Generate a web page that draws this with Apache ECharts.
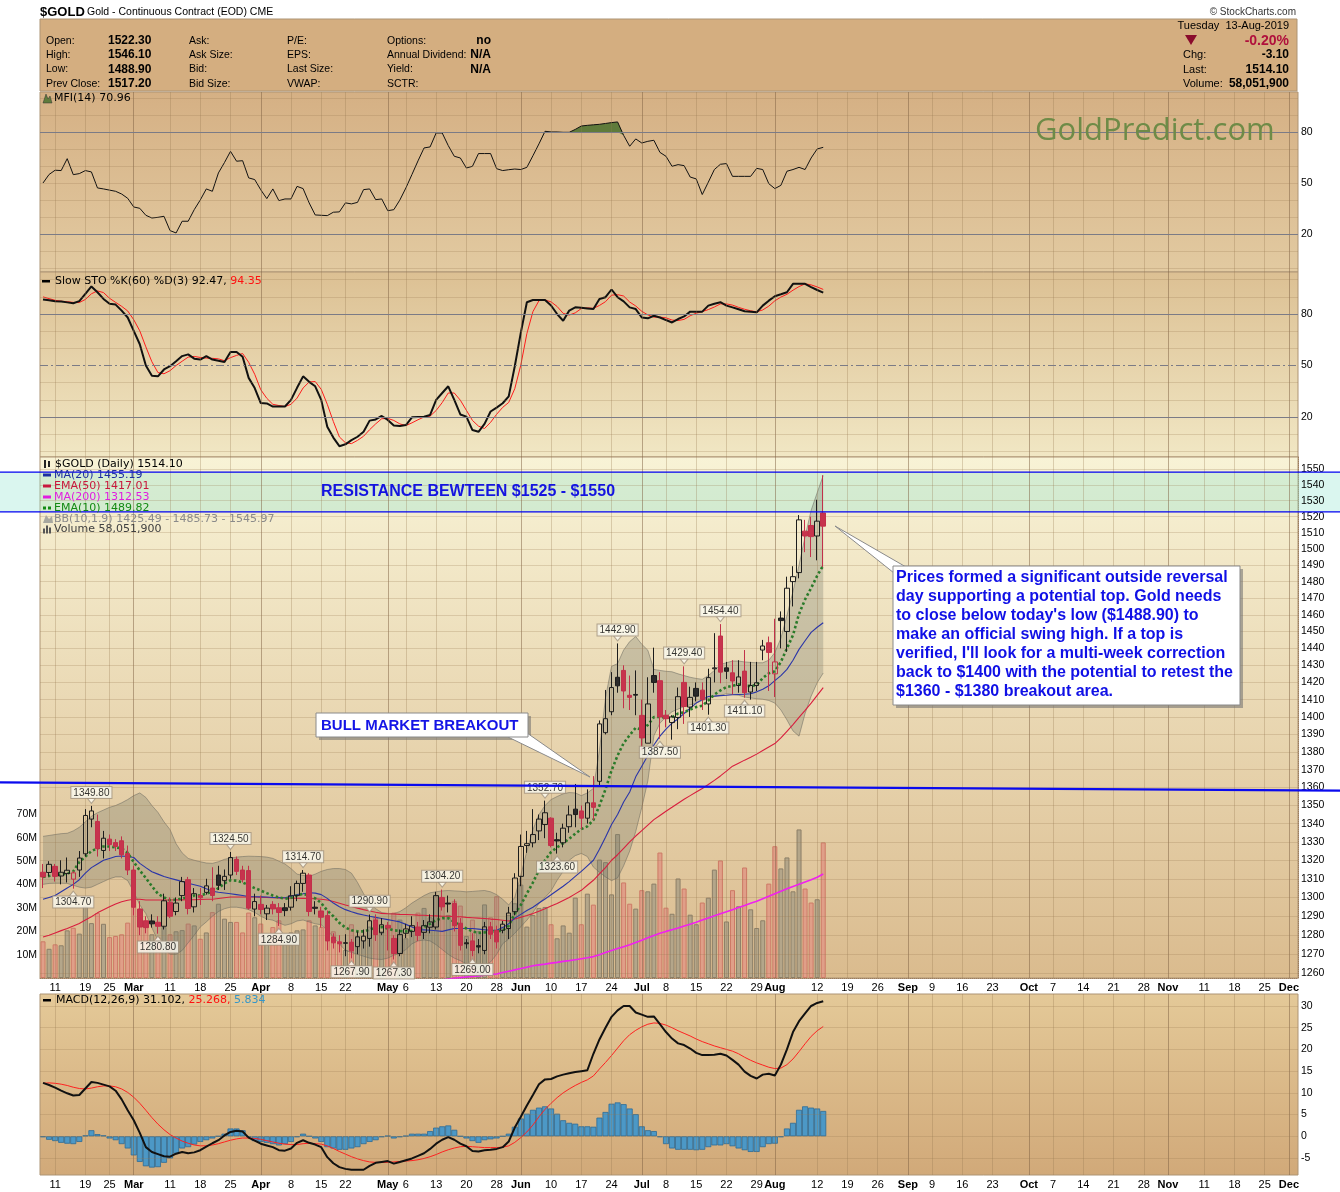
<!DOCTYPE html>
<html>
<head>
<meta charset="utf-8">
<title>$GOLD Gold - Continuous Contract (EOD)</title>
<script src="https://cdn.jsdelivr.net/npm/echarts@6.0.0/dist/echarts.min.js"></script>
<style>html,body{margin:0;padding:0;background:#fff;}#c{width:1340px;height:1192px;}</style>
</head>
<body>
<div id="c"></div>
<script>
// ================= DATA =================
const holidays = ['2019-02-18','2019-04-19','2019-05-27','2019-07-04','2019-09-02','2019-11-28'];
const firstDay = '2019-02-07', lastAxisDay = '2019-12-03';
const closeBeforeStart = 1314;

const opens = [1313.5,1313.4,1316.7,1311.5,1312.8,1309.8,1314.7,1323.5,1342.5,1341.2,
1325.3,1331.5,1329.6,1330.6,1323.6,1314.7,1293.8,1287.6,1287.5,1286.8,
1284.7,1297.5,1292.5,1301,1309.5,1295,1301,1302.7,1305,1312,
1309,1312,1320.5,1314.7,1314.4,1293.8,1296.3,1291.3,1296.3,1294.5,
1294.5,1294.8,1301,1307.5,1312,1294.8,1292.8,1290.3,1279,1276.5,
1276,1276.3,1274,1277,1278.3,1288,1281.3,1285.2,1278.3,1270.4,
1281,1282,1284.3,1281.5,1284.2,1284.3,1300,1297,1296.8,1286.3,
1276,1277,1274.5,1272,1284.4,1282.5,1282.6,1283.5,1292.4,1311.3,
1328,1329.5,1336,1339.5,1343,1331.2,1329.5,1338.3,1348,1347,
1343,1351.5,1363.5,1391,1403,1423,1427,1412.5,1413,1400.9,
1385,1424,1421,1401,1396.8,1399.7,1420,1405.7,1416.5,1415.5,
1407.5,1428,1447.3,1428.5,1425.6,1418.2,1426.6,1414.4,1418.2,1439,
1443.3,1425,1458,1450,1480,1485.5,1511,1514.5,1508,1522.3];
const closes = [1311,1317.8,1311.3,1313.5,1314.6,1313.2,1321.2,1344.5,1347,1326.3,
1332,1328.5,1327.5,1323,1314.7,1294.8,1284.3,1284,1286,1284.7,
1298.2,1290,1297,1308.5,1294.1,1302,1299.8,1306.2,1301,1306.5,
1311.3,1321.5,1314,1309.5,1294.3,1297.8,1293.6,1294.3,1293.9,1292,
1293,1300.9,1307.5,1313,1292.5,1294.2,1289.5,1277,1276,1275.5,
1275.8,1271.8,1279.1,1279.5,1287.6,1280.3,1285.5,1283.8,1270.4,1280.3,
1283.3,1285,1279.9,1285,1287,1301,1295,1296.5,1285,1274.7,
1275.5,1272,1273.8,1284.4,1280.5,1276.5,1285.8,1291.7,1310.4,1327.5,
1329,1334,1342.5,1346,1328,1330.5,1337.5,1344.8,1345,1343,
1351.5,1349,1396,1399,1417,1418,1415,1411.3,1412.6,1388,
1407.5,1420,1400,1399,1400,1411.7,1406,1411.3,1412,1410,
1422.8,1428.5,1426,1426.5,1420.8,1423.2,1414,1418.2,1419.8,1441.4,
1437.6,1432,1456.5,1476,1483,1518,1508,1507.6,1517.2,1514.1];
const lows = [1305,1311.3,1308.5,1307,1308,1304.7,1311,1322,1338,1322,
1321,1325,1325,1321,1312,1290.5,1280,1281,1284,1280.8,
1283,1289,1290.5,1298,1291,1292,1296,1301.5,1298,1304,
1304,1310,1312,1308,1293.5,1290,1291,1288,1291,1284.9,
1290,1293,1298,1303,1290,1291,1284,1272,1273,1271,
1269,1267.9,1270,1273,1274,1277,1280,1272,1267.3,1269,
1278.5,1279,1277,1278,1281,1283,1293,1292,1282,1272,
1273,1269,1270.5,1270,1278,1273,1281,1278,1290.5,1306,
1324,1327,1331,1332,1327,1323.6,1327,1335,1338,1337,
1340,1342,1361,1390,1401,1414,1405,1404,1401,1381,
1385,1414,1387.5,1394,1387,1393,1396,1400,1409,1404,
1401.3,1420,1419.5,1422,1413,1414,1411.1,1410,1415,1433,
1415,1411.5,1440,1438,1465,1482,1498,1495,1493,1488.9];
const highs = [1318,1319.5,1318,1320,1321.5,1314,1325,1348,1349.8,1345,
1336,1334,1331.5,1333,1328,1317,1298,1290,1291,1290,
1302,1300,1300,1311,1311,1305,1305,1310,1316.2,1317,
1315,1324.5,1322,1317,1317,1302,1301,1296,1298,1297,
1297,1306,1309,1314.7,1313,1298,1295,1293,1281,1280,
1280.5,1278,1282,1283,1290.9,1291,1289,1287,1280,1283,
1286,1290,1287,1288,1291,1303,1304.2,1301,1299,1289,
1278,1281,1278,1287,1287,1285,1287.5,1295,1313,1334,
1336,1348,1345,1352.7,1343.5,1335,1340,1350,1362,1350,
1359,1366.4,1398,1415.6,1426,1442.9,1430,1424,1427,1410,
1423,1440.4,1426,1404,1401,1417,1429.4,1417.5,1420,1420,
1428,1449,1454.4,1432,1433,1433,1439,1432,1432,1445,
1447,1457.6,1462,1483,1489.4,1521,1518,1520,1530.6,1546.1];
const volumesM = [15.7,12.5,14.4,14,20.4,21.5,19,30.7,23.5,27.8,
23.2,17.5,18,18.7,23.7,34.4,29.7,23.3,18.7,17.5,
21.8,18.7,20,20.5,23.3,22.5,16.8,19.5,28.2,31.8,
25.4,24,24,19.5,28,26,23.3,17.5,21.8,24.7,
19,19.5,20.4,20.8,24.7,22.5,21.8,27,20,15,
12,23,18,16,22,26,20,22,28,25,
17,20,28,30,26,35,34,27,33,31,
18,25,20,31.5,26,35,22,27,32,40,
22,27,30,30.4,23,17,22.5,19.4,34.4,23,
36.1,31.4,50.7,49.6,35.8,61.6,40.9,31.8,29.7,37.6,
37.1,40.4,53.7,30.1,27.5,42.6,38.3,27.1,23,32.3,
34.4,46.4,50.3,24.2,37.6,30.7,47.3,29.4,21.4,24.7,
40.4,56.4,46.9,51.6,37.1,63.6,38.3,32.3,33.7,58.05];
const ma20 = [1299,1300,1301,1303,1305,1307,1309.5,1313,1316,1318,
1320,1321,1322,1322.3,1322,1321.5,1318.3,1316,1313.8,1312.5,
1311.2,1310.3,1309.4,1308.5,1307.6,1306.8,1306,1304.6,1303.3,1302.8,
1302.4,1302,1301.5,1301,1300.5,1300.4,1300.3,1300.2,1300,1299.9,
1299.8,1300.6,1301.6,1302,1302.5,1302.3,1301.5,1299.5,1297,1295,
1293.5,1292.4,1291.4,1290.7,1290,1289.4,1288.8,1288.2,1287.6,1287,
1285.7,1284.3,1283,1282.8,1282.6,1282.3,1282,1282.8,1283.5,1283.5,
1283.5,1283.5,1283.2,1282.9,1282.6,1282.6,1284,1286,1289,1291,
1293,1294.8,1297,1299.2,1301.4,1303.7,1306,1308.5,1311.3,1314,
1317,1320,1326,1332.5,1339.5,1345,1352,1357.5,1366,1372,
1378,1384,1389,1393,1396.4,1399,1402,1405,1408,1410,
1411.8,1412,1412.3,1412.5,1412.8,1413,1413.1,1413.4,1414.5,1416,
1418,1421,1424,1427.6,1433,1439.4,1444.5,1449.5,1452.5,1455.19];
const ema50 = [1279,1280,1281.2,1282.4,1283.5,1284.8,1286.2,1288,1289.7,1291.8,
1293.5,1295,1296.5,1297.7,1298.5,1299,1299,1298.6,1298.6,1298.6,
1298.6,1298.6,1298.7,1298.7,1298.8,1298.8,1298.9,1299,1299,1299.4,
1299.8,1300.2,1300.2,1300.2,1300.2,1300.2,1300.1,1300,1299.8,1299.7,
1299.7,1299.6,1299.6,1299.5,1299.4,1299.3,1299,1298.6,1297.8,1296.9,
1296,1295.2,1294.3,1293.5,1292.8,1292.1,1291.5,1291.3,1291.2,1291,
1290.9,1290.8,1290.6,1290.5,1290.3,1290.2,1290,1290,1289.8,1289.7,
1289.4,1289.2,1289,1288.8,1288.5,1288.3,1287.9,1287.5,1288.5,1289.5,
1290.4,1291.4,1292.7,1294,1295.4,1296.8,1298.4,1300,1301.9,1303.8,
1306.5,1309.2,1312.6,1316,1320,1323,1326.5,1330,1333.2,1336.2,
1339.2,1342.2,1344.5,1346.8,1349,1351.3,1353.5,1355.5,1357.5,1359.5,
1361.7,1364,1366.5,1369.2,1372,1373.7,1375.4,1377,1378.8,1380.8,
1382.8,1384.8,1388,1391.8,1395.6,1399.7,1403.8,1408,1412.5,1417.01];
const ma200 = [null,null,null,null,null,null,null,null,null,null,
null,null,null,null,null,null,null,null,null,null,
null,null,null,null,null,null,null,null,null,null,
null,null,null,null,null,null,null,null,null,null,
null,null,null,null,null,null,null,null,null,null,
null,null,null,null,null,null,null,null,null,null,
null,null,null,null,null,null,1256.8,1257.2,1257.6,1257.9,
1258.2,1258.5,1258.8,1259.1,1259.5,1259.8,1260.5,1261.2,1261.9,1262.6,
1263.3,1264,1264.5,1264.9,1265.4,1265.8,1266.3,1266.7,1267.2,1267.7,
1268.2,1268.8,1269.8,1270.9,1272,1273,1274,1275,1276.2,1277.4,
1278.6,1279.8,1281,1282,1282.9,1283.8,1284.8,1285.8,1286.8,1288,
1289.1,1290.2,1291.3,1292.4,1293.5,1294.6,1295.7,1296.9,1298,1299.3,
1300.6,1302,1303.3,1304.6,1305.9,1307.1,1308.3,1309.5,1310.8,1312.53];
const ema10 = [1311,1311.5,1312,1312.3,1312.8,1314,1319,1322,1325,1326.5,
1327.5,1327.5,1327,1326.5,1324,1319,1314.5,1310.4,1306,1302,
1300,1298.6,1298.8,1299.5,1300,1301,1301,1302,1303,1305,
1307.5,1309.2,1309,1308,1306.5,1305,1303.7,1302.3,1301,1300,
1299.3,1299.8,1301,1302,1301,1299.5,1297,1293,1290,1286.5,
1284,1282.6,1282,1282,1283,1284,1284.3,1283.5,1282.6,1282.2,
1282,1282.3,1283,1284.3,1286,1288,1289,1289,1287,1285,
1283.5,1282,1281.2,1281.5,1282,1282,1282.5,1285,1291.4,1296,
1302,1308,1314.6,1320,1324.5,1327,1329.2,1331.7,1334.5,1337,
1338.5,1342,1350,1359,1369.6,1378,1385,1389.6,1393.8,1392.7,
1395.4,1399.9,1400,1399.7,1399.8,1402,1402.7,1404.3,1405.7,1406.5,
1409.4,1412.9,1415.3,1417.3,1418,1418.9,1418,1418,1418.4,1422.5,
1425.3,1426.5,1432,1440,1447.8,1460.5,1469.2,1476.1,1483.6,1489.82];
const bbUpper = [1333,1333.5,1334,1334.5,1334.7,1336,1338,1341,1344,1346,
1347.5,1349,1350,1351.5,1353.3,1355.5,1357,1354.5,1350,1346.2,
1341,1336.7,1329,1324,1321,1320,1319.2,1318.5,1318.3,1319.2,
1320.5,1321.2,1321.7,1322,1322.2,1322.1,1322,1321.7,1321,1319.5,
1318,1315.5,1312.5,1311.8,1311.3,1312.5,1314,1315,1315.5,1315.5,
1315,1313,1308,1302,1297,1294,1292,1291.5,1291.4,1292.5,
1294.5,1297,1299,1301,1302.5,1303,1303.5,1303.7,1303.5,1303.3,
1303,1303.2,1303.5,1303.7,1303,1301.5,1299,1296,1300,1312,
1325,1336.7,1345,1350,1353.3,1355,1356.5,1357.2,1357,1355.5,
1357,1359.5,1381,1411,1429.4,1431,1439,1444,1447,1442.4,
1438.9,1427.6,1427,1426.5,1426.2,1425,1424,1423,1422.3,1421.8,
1424,1427,1430.5,1431.5,1432.5,1432.5,1432,1431.7,1431.5,1431.5,
1433,1437.5,1446,1459.5,1474,1490,1507.6,1524,1535,1545.97];
const bbLower = [1307,1307.5,1307.6,1307.6,1307.5,1306.5,1305.5,1305,1305.5,1307,
1308.5,1310,1311,1311,1309,1303,1296,1291.4,1284,1277,
1273,1270,1270,1272,1276,1280,1284.3,1287,1290,1292.5,
1294,1294.8,1294.8,1294.3,1293.5,1292,1290,1288.5,1287.9,1286.5,
1285.2,1286,1287.5,1288,1287,1286,1285.5,1282.6,1279,1275.5,
1272,1271,1270,1269,1268,1267.5,1267.3,1268,1269.5,1270.5,
1272.5,1275.5,1277,1277.5,1277,1275,1272.5,1270,1268,1266.7,
1265,1263.5,1263.3,1264,1266,1270,1275.5,1278,1281,1284.5,
1287.9,1292,1296.8,1300,1303.5,1309.2,1314,1320,1322.5,1323.7,
1322,1316.3,1313.5,1311,1309,1310.5,1317,1325,1335.7,1348.9,
1363.7,1389.2,1396.4,1400,1403,1404.5,1406,1407,1408,1409.5,
1410.5,1411.8,1412.5,1413.4,1413,1412.5,1411.5,1411,1410.5,1410.2,
1409.5,1408,1404,1398.3,1392,1389,1402,1412,1419.8,1425.49];
const mfi = [50,55,57.5,57.3,64.3,54.9,55.5,57.3,56.5,47.1,
46.5,45.8,45.1,43.5,41,35.9,35.1,31,29.4,29.8,
30.4,22,20.6,27.5,27.5,34.3,40,46.5,45.1,55.9,
62,68.6,62.8,63.1,53,52,46,40.8,46.5,39.6,
40.6,40.6,48,46.7,38.3,31.2,31,30.8,32.8,33,
38.3,37.7,38.6,46.1,46.5,40.2,40.6,33.7,34.3,40,
47.1,55,63,70.6,71.2,79.4,79.4,72,65.7,64.7,
58.8,59.8,67.3,67.3,67.3,58.4,57.3,57.8,58.2,57.9,
59.2,66,73,80.4,80,80,79.8,79.8,81.5,83.5,
83.9,84.2,84.5,85,85.5,85.9,78,71.6,75.9,73.5,
74.5,75.1,68,65.7,59.8,60.8,60.2,53.5,52.4,43.2,
50.5,57.9,61,61.4,53.9,53.9,53.9,53.9,58.6,57.9,
49.6,46.7,48.6,56.9,57.9,59.2,57.9,64.7,70,70.96];
const stoK = [88.5,88,87.4,87.3,86.8,86.3,87.5,91.8,96.1,92.7,
88.8,86,85.5,82,78,70.2,62.4,50,44.1,43.7,
47.7,49.6,52.5,55.5,56.5,54,53.5,55.5,53.5,52.8,
52,57.9,57.9,55.1,42.8,36.9,28.1,27.9,26.1,26.1,
26.1,30,37,43.7,40.5,37.9,30,14.3,8,3,
4.1,6.5,8.5,11.4,17.9,18.6,20.6,18.3,15,14.7,
15.3,19.8,20,20.2,21.2,30,34,37.9,30,21.5,
20.2,12.4,11.4,16,23.2,25.5,28,32,49.6,69.2,
86.9,88.2,88.2,88.2,85,80,76.1,82,83.9,83.6,
83.3,82.9,88.8,89.8,94.3,89.8,87.4,83.9,82.9,78,
77.5,79,78,76.5,75.1,77.1,78.6,81.4,81.4,81.4,
84.9,86,86.9,84.9,83.9,82.8,81.6,81.3,81,84.9,
87.8,90.4,91.5,92.7,97.6,97.6,97.6,95.7,94,92.47];
const stoD = [90,89,88,87.5,87.2,86.8,86.7,88.5,91.8,93.5,
92.5,89.2,86.8,84.5,81.8,76.7,70.2,60.9,52.2,45.9,
45.2,47,50,52.5,54.9,55.3,54.7,54.3,54.2,53.9,
52.8,54.6,55.9,57,51.9,44.9,35.9,30.9,27.4,26.7,
26.1,27.4,31,36.9,40.4,40.7,36.1,27.4,17.4,8.4,
5,4.5,6.4,8.8,12.6,16,19,19.2,18,16,
15,16.6,18.4,20,20.5,23.8,28.4,34,34,29.8,
23.9,18,14.7,13.3,16.9,21.6,25.6,28.5,36.5,50.3,
68.6,81.4,87.8,88.2,87.1,84.4,80.4,79.4,80.7,83.2,
83.6,83.3,85,87.2,91,91.3,90.5,87,84.7,81.6,
79.5,78.2,78.2,77.8,76.5,76.2,76.9,79,80.5,81.4,
82.6,84.1,85.9,85.9,85.2,83.9,82.8,81.9,81.3,82.4,
84.6,87.7,89.9,91.5,93.9,96,97.6,97,95.8,94.35];
const macd = [12.3,11.8,11.2,10.5,9.9,9.4,9.5,11,12.5,12.3,
11.9,11.5,10.5,8.5,6,3.7,0.8,-2.5,-3.6,-4.1,
-4.6,-4.7,-4,-3.6,-3.9,-3.7,-3.2,-2.4,-1.6,-0.9,
0.2,1,1.3,1.1,-0.3,-1,-1.7,-2.1,-2.5,-3.2,
-3.3,-2.8,-1.5,-0.9,-1.5,-1.9,-2.5,-4.8,-6.2,-7.1,
-7.5,-7.7,-7.7,-7.7,-6.8,-6.1,-5.9,-5.7,-6.3,-5.9,
-5.5,-5.1,-4.5,-3.9,-2.9,-1.7,-0.8,-0.2,-0.8,-1.7,
-2.3,-3.4,-3.5,-3.2,-3.1,-2.9,-2.5,-1.2,2,4.5,
7.1,9.5,12,13.1,13.2,13.8,14.2,14.5,14.8,15,
15.2,19,22.3,25,27.5,29,30,30,28.5,28,
27.5,27.6,25.8,24,22.5,21.4,21,20.2,19.2,18.7,
18.7,18.8,19,18.6,17.6,16.5,14.9,13.9,13.3,14.2,
14.4,14,16.5,20,24,26.5,28.3,30,30.7,31.102];
const macdSignal = [12.2,12.3,12.2,12,11.7,11.3,11,10.9,11.1,11.4,
11.6,11.6,11.4,10.9,10.1,9,7.6,6,4.3,2.8,
1.5,0.4,-0.4,-1.1,-1.6,-2,-2.2,-2.2,-2,-1.7,
-1.3,-0.9,-0.6,-0.4,-0.4,-0.5,-0.7,-1,-1.3,-1.6,
-1.8,-1.9,-1.9,-1.7,-1.6,-1.7,-1.8,-2.2,-2.8,-3.5,
-4.1,-4.7,-5.2,-5.6,-5.9,-6,-6,-6,-5.9,-5.8,
-5.7,-5.6,-5.4,-5.1,-4.7,-4.2,-3.6,-3.1,-2.7,-2.4,
-2.3,-2.4,-2.5,-2.6,-2.6,-2.6,-2.5,-2.2,-1.4,-0.3,
1,2.6,4.5,6.2,7.6,8.9,10,10.9,11.7,12.4,
13,13.9,15.5,17,18.6,20.3,22,23.4,24.4,25.2,
25.8,26.1,26,25.6,25,24.3,23.7,23.1,22.4,21.8,
21.3,20.8,20.4,20,19.6,19,18.2,17.5,16.9,16.4,
15.9,15.6,15.7,16.5,17.8,19.5,21.3,23,24.3,25.268];
const macdHist = [-0.2,-0.8,-1.1,-1.5,-1.7,-1.8,-1.3,0.2,1.4,0.5,
0.2,-0.5,-0.9,-1.8,-2.8,-4.4,-5.9,-6.9,-7.2,-7.1,
-6.1,-5.1,-4,-2.8,-2.5,-1.9,-1.3,-0.9,-0.5,0,
0.6,1.8,1.8,1.4,-0.2,-1.1,-1.3,-1.5,-1.8,-2.1,
-1.8,-1.3,-0.2,0.6,0,-0.5,-1.3,-2.5,-2.8,-3.1,
-3.1,-2.8,-2.5,-1.8,-1.3,-0.9,-0.2,0.1,-0.5,-0.2,
0.1,0.6,0.6,0.6,1.2,2,2.3,2.5,1.5,0,
-0.5,-1.1,-1.5,-0.9,-0.7,-0.5,0,0.6,2.2,4.1,
5.2,6.1,6.6,6.9,6.4,5.2,3.7,3.1,2.9,2.3,
2.3,2.2,4.3,5.6,7.5,7.8,7.4,6.4,5.1,2.3,
1.4,1.2,-0.2,-1.8,-2.8,-3.1,-3.1,-3.1,-3.2,-3.1,
-2.5,-2.1,-2.1,-1.8,-2.3,-2.8,-3.2,-3.6,-3.6,-2.5,
-1.8,-1.7,-0.2,1.8,3.1,6.1,6.9,6.6,6.4,5.834];

// swing-point annotations: [candle index, 'high'|'low']
const priceNotes = [[8,'high'],[5,'low'],[31,'high'],[19,'low'],[43,'high'],[39,'low'],[54,'high'],[51,'low'],[58,'low'],[66,'high'],[71,'low'],[83,'high'],[85,'low'],[95,'high'],[102,'low'],[106,'high'],[110,'low'],[112,'high'],[116,'low']];

// axis tick labels
const tickLabels = [['2019-02-11','11'],['2019-02-19','19'],['2019-02-25','25'],['2019-03-01','Mar'],['2019-03-11','11'],['2019-03-18','18'],['2019-03-25','25'],['2019-04-01','Apr'],['2019-04-08','8'],['2019-04-15','15'],['2019-04-22','22'],['2019-05-01','May'],['2019-05-06','6'],['2019-05-13','13'],['2019-05-20','20'],['2019-05-28','28'],['2019-06-03','Jun'],['2019-06-10','10'],['2019-06-17','17'],['2019-06-24','24'],['2019-07-01','Jul'],['2019-07-08','8'],['2019-07-15','15'],['2019-07-22','22'],['2019-07-29','29'],['2019-08-01','Aug'],['2019-08-12','12'],['2019-08-19','19'],['2019-08-26','26'],['2019-09-03','Sep'],['2019-09-09','9'],['2019-09-16','16'],['2019-09-23','23'],['2019-10-01','Oct'],['2019-10-07','7'],['2019-10-14','14'],['2019-10-21','21'],['2019-10-28','28'],['2019-11-01','Nov'],['2019-11-11','11'],['2019-11-18','18'],['2019-11-25','25'],['2019-12-02','Dec']];
const monthNames = ['Jan','Feb','Mar','Apr','May','Jun','Jul','Aug','Sep','Oct','Nov','Dec'];
const priceTicks = [1260,1270,1280,1290,1300,1310,1320,1330,1340,1350,1360,1370,1380,1390,1400,1410,1420,1430,1440,1450,1460,1470,1480,1490,1500,1510,1520,1530,1540,1550];
const volumeTicksM = [10,20,30,40,50,60,70];
const oscTicks = [20,50,80];
const oscMinor = [0,10,30,40,60,70,90,100];
const macdTicks = [-5,0,5,10,15,20,25,30];
const resistanceZone = [1523, 1548];
const breakoutTrend = [1362.9, 1358.3]; // price at left and right page edge

// ================= BUILD =================
function buildTradingDays(startISO, endISO, skip) {
  const out = [];
  const d = new Date(startISO + 'T00:00:00Z');
  const end = new Date(endISO + 'T00:00:00Z');
  while (d <= end) {
    const wd = d.getUTCDay();
    const iso = d.toISOString().slice(0, 10);
    if (wd !== 0 && wd !== 6 && skip.indexOf(iso) < 0) out.push(iso);
    d.setUTCDate(d.getUTCDate() + 1);
  }
  return out;
}
const categories = buildTradingDays(firstDay, lastAxisDay, holidays);
const tickMap = {};
tickLabels.forEach(function (t) { tickMap[t[0]] = t[1]; });

const FONT = '"Liberation Sans", Arial, Helvetica, sans-serif';
const LFONT = '"DejaVu Sans", Verdana, sans-serif';
const WEEK_LINE = {color: 'rgba(150,118,80,0.30)', width: 1, type: 'solid'};
const MONTH_LINE = {color: 'rgba(125,95,65,0.50)', width: 1, type: 'solid'};
const LIGHT_H = {color: 'rgba(150,118,80,0.25)', width: 1, type: 'solid'};
const DARK_H = {color: '#7b7b86', width: 1.2, type: 'solid'};
const DASHDOT = {color: '#7b7b86', width: 1, type: [8, 3, 2, 3]};
const NOLINE = {color: 'rgba(0,0,0,0)', width: 0};

function vertLines() {
  return tickLabels.map(function (t) {
    return {xAxis: t[0], lineStyle: monthNames.indexOf(t[1]) >= 0 ? MONTH_LINE : WEEK_LINE, label: {show: false}};
  });
}
function axisLabelStyle(text, side) {
  return {show: true, position: side === 'left' ? 'start' : 'end', distance: 3, formatter: text,
    color: '#000', fontSize: 10.5, fontFamily: FONT};
}
function hLines(values, styleFn, labelVals, fmt, side) {
  return values.map(function (v) {
    const it = {yAxis: v, lineStyle: styleFn(v), label: {show: false}};
    if (labelVals && labelVals.indexOf(v) >= 0) it.label = axisLabelStyle(fmt(v), side);
    return it;
  });
}
function helper(xi, yi, items) {
  return {type: 'line', xAxisIndex: xi, yAxisIndex: yi, data: [], z: 1, silent: true,
    markLine: {silent: true, symbol: ['none', 'none'], animation: false, label: {show: false}, data: items}};
}
function grad(c1, c2) {
  return {type: 'linear', x: 0, y: 0, x2: 0, y2: 1, colorStops: [{offset: 0, color: c1}, {offset: 1, color: c2}]};
}

const prevCloses = closes.map(function (c, i) { return i === 0 ? closeBeforeStart : closes[i - 1]; });
const candleData = opens.map(function (o, i) {
  const c = closes[i];
  const up = c >= prevCloses[i];
  const hollow = c > o;
  const edge = up ? '#1c1c1c' : '#c2304a';
  const fill = hollow ? 'rgba(0,0,0,0)' : (up ? '#2a2a2a' : '#c7334d');
  return {value: [o, c, lows[i], highs[i]], itemStyle: {color: fill, color0: fill, borderColor: edge, borderColor0: edge, borderWidth: 1}};
});
const volData = volumesM.map(function (v, i) {
  const up = closes[i] >= prevCloses[i];
  return {value: v * 1e6, itemStyle: up ? {color: '#b4a68a', borderColor: '#8c7f68', borderWidth: 1} : {color: '#e09f88', borderColor: '#cd7a66', borderWidth: 1}};
});
const bbBand = bbUpper.map(function (u, i) { return +(u - bbLower[i]).toFixed(2); });
const mfiBase = mfi.map(function (v) { return Math.min(v, 80); });
const mfiOver = mfi.map(function (v) { return +Math.max(v - 80, 0).toFixed(2); });
const noteData = priceNotes.map(function (n) {
  const i = n[0], isHigh = n[1] === 'high';
  const v = isHigh ? highs[i] : lows[i];
  return {value: [i, v], symbol: 'triangle', symbolSize: [8, 5], symbolRotate: isHigh ? 180 : 0,
    symbolOffset: [0, isHigh ? -5 : 5],
    label: {show: true, position: isHigh ? 'top' : 'bottom', distance: 0, formatter: v.toFixed(2)}};
});

function xAxisFor(g, showLabels) {
  return {type: 'category', gridIndex: g, data: categories, boundaryGap: true,
    axisLine: {show: g === 2, lineStyle: {color: '#9c7c5c', type: 'dotted'}}, axisTick: {show: false}, splitLine: {show: false},
    axisLabel: {show: showLabels, interval: function (i, v) { return tickMap[v] !== undefined; },
      formatter: function (v) { const t = tickMap[v]; return monthNames.indexOf(t) >= 0 ? '{b|' + t + '}' : t; },
      margin: 4, color: '#000', fontSize: 11, fontFamily: FONT,
      rich: {b: {fontWeight: 'bold', fontSize: 11, fontFamily: FONT, color: '#000'}}}};
}

const gridBase = {left: 40, right: 42, show: true, borderColor: '#ad9474', borderWidth: 1};
const option = {
  animation: false,
  backgroundColor: '#ffffff',
  grid: [
    Object.assign({}, gridBase, {top: 92, height: 180, backgroundColor: grad('#d5b084', '#e2caa1')}),
    Object.assign({}, gridBase, {top: 272, height: 185, backgroundColor: grad('#dcc093', '#f1e7c4')}),
    Object.assign({}, gridBase, {top: 457, height: 521, backgroundColor: grad('#f8f3d6', '#dabb8e')}),
    Object.assign({}, gridBase, {top: 994, height: 181, backgroundColor: grad('#e4c998', '#d1a979')})
  ],
  xAxis: [xAxisFor(0, false), xAxisFor(1, false), xAxisFor(2, true), xAxisFor(3, true)],
  yAxis: [
    {type: 'value', gridIndex: 0, position: 'right', min: -2.35, max: 103.5, axisLabel: {show: false}, axisTick: {show: false}, splitLine: {show: false}, axisLine: {show: false}},
    {type: 'value', gridIndex: 1, position: 'right', min: -3.3, max: 104.5, axisLabel: {show: false}, axisTick: {show: false}, splitLine: {show: false}, axisLine: {show: false}},
    {type: 'log', logBase: 10, gridIndex: 2, position: 'right', min: 1257.7, max: 1557.7, axisLabel: {show: false}, axisTick: {show: false}, splitLine: {show: false}, axisLine: {show: true, lineStyle: {color: '#9c7c5c', type: 'dotted'}}},
    {type: 'value', gridIndex: 2, position: 'left', min: 0, max: 223e6, axisLabel: {show: false}, axisTick: {show: false}, splitLine: {show: false}, axisLine: {show: false}},
    {type: 'value', gridIndex: 3, position: 'right', min: -8.91, max: 32.76, axisLabel: {show: false}, axisTick: {show: false}, splitLine: {show: false}, axisLine: {show: false}}
  ],
  series: [
    // ---- MFI panel ----
    helper(0, 0, vertLines().concat(
      hLines(oscMinor.concat(oscTicks), function (v) { return (v === 20 || v === 80) ? DARK_H : LIGHT_H; }, oscTicks, String, 'right'))),
    {type: 'line', name: 'mfiBase', xAxisIndex: 0, yAxisIndex: 0, data: mfiBase, stack: 'mfi', symbol: 'none', lineStyle: {width: 0, opacity: 0}, z: 3, silent: true},
    {type: 'line', name: 'mfiOver', xAxisIndex: 0, yAxisIndex: 0, data: mfiOver, stack: 'mfi', symbol: 'none', lineStyle: {width: 0, opacity: 0}, areaStyle: {color: '#5f7b3b', opacity: 1}, z: 3, silent: true},
    {type: 'line', name: 'MFI(14)', xAxisIndex: 0, yAxisIndex: 0, data: mfi, symbol: 'none', lineStyle: {color: '#111', width: 1}, z: 4},
    // ---- Slow STO panel ----
    helper(1, 1, vertLines().concat(
      hLines(oscMinor.concat(oscTicks), function (v) { return (v === 20 || v === 80) ? DARK_H : (v === 50 ? DASHDOT : LIGHT_H); }, oscTicks, String, 'right'))),
    {type: 'line', name: '%D', xAxisIndex: 1, yAxisIndex: 1, data: stoD, symbol: 'none', lineStyle: {color: '#ff1c1c', width: 1}, z: 3},
    {type: 'line', name: '%K', xAxisIndex: 1, yAxisIndex: 1, data: stoK, symbol: 'none', lineStyle: {color: '#111', width: 2}, z: 4},
    // ---- Price panel ----
    helper(2, 2, vertLines().concat(hLines(priceTicks, function () { return LIGHT_H; }, priceTicks, String, 'right'))),
    helper(2, 3, hLines(volumeTicksM.map(function (v) { return v * 1e6; }), function () { return NOLINE; }, volumeTicksM.map(function (v) { return v * 1e6; }), function (v) { return (v / 1e6) + 'M'; }, 'left')),
    {type: 'bar', name: 'Volume', xAxisIndex: 2, yAxisIndex: 3, data: volData, barWidth: 5, z: 3},
    {type: 'line', name: 'bbLower', xAxisIndex: 2, yAxisIndex: 2, data: bbLower, stack: 'bb', symbol: 'none', lineStyle: {color: 'rgba(100,100,92,0.5)', width: 1}, z: 4, silent: true},
    {type: 'line', name: 'BB(10,1.9)', xAxisIndex: 2, yAxisIndex: 2, data: bbBand, stack: 'bb', symbol: 'none', lineStyle: {color: 'rgba(100,100,92,0.5)', width: 1}, areaStyle: {color: 'rgba(120,123,110,0.46)'}, z: 4, silent: true},
    {type: 'line', name: 'MA(200)', xAxisIndex: 2, yAxisIndex: 2, data: ma200, symbol: 'none', lineStyle: {color: '#f020f0', width: 1.6}, z: 5},
    {type: 'line', name: 'EMA(50)', xAxisIndex: 2, yAxisIndex: 2, data: ema50, symbol: 'none', lineStyle: {color: '#d81e3e', width: 1.1}, z: 5},
    {type: 'line', name: 'MA(20)', xAxisIndex: 2, yAxisIndex: 2, data: ma20, symbol: 'none', lineStyle: {color: '#2a35a8', width: 1.1}, z: 5},
    {type: 'line', name: 'EMA(10)', xAxisIndex: 2, yAxisIndex: 2, data: ema10, symbol: 'none', lineStyle: {color: '#2a7a2a', width: 2.6, type: [2.5, 2.5]}, z: 5},
    {type: 'candlestick', name: '$GOLD', xAxisIndex: 2, yAxisIndex: 2, data: candleData, barWidth: 5, z: 6},
    {type: 'scatter', name: 'notes', xAxisIndex: 2, yAxisIndex: 2, data: noteData, z: 7, silent: true,
      itemStyle: {color: '#fdfcf3', borderColor: '#a39480', borderWidth: 1},
      label: {color: '#000', fontSize: 10, fontFamily: FONT, backgroundColor: '#fdfcf3', borderColor: '#a39480', borderWidth: 1, padding: [1, 2, 0, 2]}},
    // ---- MACD panel ----
    helper(3, 4, vertLines().concat(hLines(macdTicks, function () { return LIGHT_H; }, macdTicks, String, 'right'))),
    {type: 'bar', name: 'hist', xAxisIndex: 3, yAxisIndex: 4, data: macdHist, barWidth: 6, itemStyle: {color: '#4c98c6', borderColor: '#2d6b95', borderWidth: 0.8}, z: 3},
    {type: 'line', name: 'signal', xAxisIndex: 3, yAxisIndex: 4, data: macdSignal, symbol: 'none', lineStyle: {color: '#ff2020', width: 1}, z: 4},
    {type: 'line', name: 'MACD', xAxisIndex: 3, yAxisIndex: 4, data: macd, symbol: 'none', lineStyle: {color: '#111', width: 2}, z: 5}
  ]
};

const chart = echarts.init(document.getElementById('c'), null, {renderer: 'canvas'});
chart.setOption(option);

// ================= ANNOTATIONS =================
function T(text, x, y, style, z) {
  return {type: 'text', x: x, y: y, z: z || 20, silent: true,
    style: Object.assign({text: text, fill: '#000', font: '10.5px ' + FONT, align: 'left', verticalAlign: 'middle'}, style || {})};
}
const pyTop = chart.convertToPixel({yAxisIndex: 2}, resistanceZone[1]);
const pyBot = chart.convertToPixel({yAxisIndex: 2}, resistanceZone[0]);
const trendL = chart.convertToPixel({yAxisIndex: 2}, breakoutTrend[0]);
const trendR = chart.convertToPixel({yAxisIndex: 2}, breakoutTrend[1]);
const Wd = chart.getWidth();

const g = [];
// header panel
g.push({type: 'rect', z: 5, silent: true, shape: {x: 40, y: 19, width: 1257, height: 72}, style: {fill: '#d4ae80', stroke: '#ad9474', lineWidth: 1}});
g.push(T('$GOLD', 40, 12, {font: 'bold 13px ' + FONT}));
g.push(T('Gold - Continuous Contract (EOD) CME', 87, 12, {font: '10.5px ' + FONT}));
g.push(T('\u00A9 StockCharts.com', 1296, 12, {font: '10px ' + FONT, fill: '#333', align: 'right'}));
const rowsY = [41, 55, 69.5, 84];
const c1 = ['Open:', 'High:', 'Low:', 'Prev Close:'];
const c1v = ['1522.30', '1546.10', '1488.90', '1517.20'];
const c2 = ['Ask:', 'Ask Size:', 'Bid:', 'Bid Size:'];
const c3 = ['P/E:', 'EPS:', 'Last Size:', 'VWAP:'];
const c4 = ['Options:', 'Annual Dividend:', 'Yield:', 'SCTR:'];
const c4v = ['no', 'N/A', 'N/A', ''];
rowsY.forEach(function (y, i) {
  g.push(T(c1[i], 46, y));
  g.push(T(c1v[i], 108, y, {font: 'bold 12px ' + FONT}));
  g.push(T(c2[i], 189, y));
  g.push(T(c3[i], 287, y));
  g.push(T(c4[i], 387, y));
  if (c4v[i]) g.push(T(c4v[i], 491, y, {font: 'bold 12px ' + FONT, align: 'right'}));
});
g.push(T('Tuesday  13-Aug-2019', 1289, 26, {font: '11px ' + FONT, align: 'right'}));
g.push({type: 'polygon', z: 20, silent: true, shape: {points: [[1185, 35], [1197, 35], [1191, 45]]}, style: {fill: '#8a0c2c'}});
g.push(T('-0.20%', 1289, 41, {font: 'bold 14px ' + FONT, fill: '#b0103c', align: 'right'}));
g.push(T('Chg:', 1183, 55, {font: '11px ' + FONT}));
g.push(T('-3.10', 1289, 55, {font: 'bold 12px ' + FONT, align: 'right'}));
g.push(T('Last:', 1183, 70, {font: '11px ' + FONT}));
g.push(T('1514.10', 1289, 70, {font: 'bold 12px ' + FONT, align: 'right'}));
g.push(T('Volume:', 1183, 84, {font: '11px ' + FONT}));
g.push(T('58,051,900', 1289, 84, {font: 'bold 12px ' + FONT, align: 'right'}));

// watermark
g.push(T('GoldPredict.com', 1035, 131, {font: '31px "Open Sans", sans-serif', fill: '#6e8b47'}, 6));

// panel legends
g.push({type: 'polygon', z: 20, silent: true, shape: {points: [[43, 103], [46, 94], [48, 99], [50, 96], [52, 103]]}, style: {fill: '#5f7b3b', stroke: '#333', lineWidth: 0.5}});
g.push(T('MFI(14) 70.96', 54, 98.5, {font: '11px ' + LFONT}));
g.push({type: 'rect', z: 20, silent: true, shape: {x: 42, y: 280, width: 8, height: 2.5}, style: {fill: '#000'}});
g.push(T('{a|Slow STO %K(60) %D(3) 92.47, }{r|94.35}', 55, 281.5, {font: '11px ' + LFONT, rich: {a: {fill: '#000', font: '11px ' + LFONT}, r: {fill: '#ff1010', font: '11px ' + LFONT}}}));
g.push(T('$GOLD (Daily) 1514.10', 55, 464, {font: '11px ' + LFONT}));
g.push({type: 'rect', z: 20, silent: true, shape: {x: 44, y: 460, width: 2, height: 8}, style: {fill: '#222'}});
g.push({type: 'rect', z: 20, silent: true, shape: {x: 48, y: 461, width: 2, height: 6}, style: {fill: '#222'}});
const legendRows = [
  ['MA(20) 1455.19', '#1d2ea0', 475, 'solid'],
  ['EMA(50) 1417.01', '#c8183c', 486, 'solid'],
  ['MA(200) 1312.53', '#e01ee0', 497, 'solid'],
  ['EMA(10) 1489.82', '#138a13', 508, 'dot'],
  ['BB(10,1.9) 1425.49 - 1485.73 - 1545.97', '#8a8a8a', 519, 'bb'],
  ['Volume 58,051,900', '#404040', 529.5, 'vol']
];
legendRows.forEach(function (r) {
  if (r[3] === 'solid') g.push({type: 'rect', z: 20, silent: true, shape: {x: 43, y: r[2] - 1.5, width: 8, height: 3}, style: {fill: r[1]}});
  if (r[3] === 'dot') { g.push({type: 'rect', z: 20, silent: true, shape: {x: 43, y: r[2] - 1.5, width: 3, height: 3}, style: {fill: r[1]}}); g.push({type: 'rect', z: 20, silent: true, shape: {x: 48, y: r[2] - 1.5, width: 3, height: 3}, style: {fill: r[1]}}); }
  if (r[3] === 'bb') g.push({type: 'polygon', z: 20, silent: true, shape: {points: [[43, r[2] + 4], [46, r[2] - 4], [49, r[2]], [52, r[2] - 3], [53, r[2] + 4]]}, style: {fill: '#a8a8a0'}});
  if (r[3] === 'vol') { [43, 46, 49].forEach(function (x, k) { g.push({type: 'rect', z: 20, silent: true, shape: {x: x, y: r[2] + 4 - [5, 8, 6][k], width: 2, height: [5, 8, 6][k]}, style: {fill: '#555'}}); }); }
  g.push(T(r[0], 54, r[2], {font: '11px ' + LFONT, fill: r[1]}));
});
g.push({type: 'rect', z: 20, silent: true, shape: {x: 43, y: 999, width: 8, height: 2.5}, style: {fill: '#000'}});
g.push(T('{a|MACD(12,26,9) 31.102, }{r|25.268, }{b|5.834}', 56, 1000.5, {font: '11px ' + LFONT, rich: {a: {fill: '#000', font: '11px ' + LFONT}, r: {fill: '#ff1010', font: '11px ' + LFONT}, b: {fill: '#3596c8', font: '11px ' + LFONT}}}));

// resistance zone
g.push({type: 'rect', z: 2, silent: true, shape: {x: 0, y: pyTop, width: Wd, height: pyBot - pyTop}, style: {fill: 'rgba(150,230,210,0.35)'}});
g.push({type: 'line', z: 9, silent: true, shape: {x1: 0, y1: pyTop, x2: Wd, y2: pyTop}, style: {stroke: '#0000f0', lineWidth: 1.3}});
g.push({type: 'line', z: 9, silent: true, shape: {x1: 0, y1: pyBot, x2: Wd, y2: pyBot}, style: {stroke: '#0000f0', lineWidth: 1.3}});
g.push(T('RESISTANCE BEWTEEN $1525 - $1550', 321, (pyTop + pyBot) / 2, {font: 'bold 16px ' + FONT, fill: '#1414e0'}, 9));
// breakout trend line
g.push({type: 'line', z: 9, silent: true, shape: {x1: 0, y1: trendL, x2: Wd, y2: trendR}, style: {stroke: '#0a0aee', lineWidth: 2.4}});

// BULL MARKET BREAKOUT callout
g.push({type: 'rect', z: 10, silent: true, shape: {x: 319, y: 716, width: 212, height: 24}, style: {fill: 'rgba(110,110,110,0.55)'}});
g.push({type: 'polygon', z: 10, silent: true, shape: {points: [[508, 737], [527, 733], [590, 777]]}, style: {fill: '#ffffff', stroke: '#8a8a8a', lineWidth: 1}});
g.push({type: 'rect', z: 11, silent: true, shape: {x: 316, y: 713, width: 212, height: 24}, style: {fill: '#ffffff', stroke: '#8a8a8a', lineWidth: 1}});
g.push(T('BULL MARKET BREAKOUT', 321, 725.5, {font: 'bold 15px ' + FONT, fill: '#1414e6'}, 12));

// commentary callout
g.push({type: 'rect', z: 10, silent: true, shape: {x: 896, y: 569, width: 347, height: 139}, style: {fill: 'rgba(110,110,110,0.55)'}});
g.push({type: 'polygon', z: 10, silent: true, shape: {points: [[835, 526], [894, 573], [906, 567]]}, style: {fill: '#ffffff', stroke: '#8a8a8a', lineWidth: 1}});
g.push({type: 'rect', z: 11, silent: true, shape: {x: 893, y: 566, width: 347, height: 139}, style: {fill: '#ffffff', stroke: '#8a8a8a', lineWidth: 1}});
const noteLines = ['Prices formed a significant outside reversal', 'day supporting a potential top. Gold needs', "to close below today's low ($1488.90) to", 'make an official swing high. If a top is', "verified, I'll look for a multi-week correction", 'back to $1400 with the potential to retest the', '$1360 - $1380 breakout area.'];
noteLines.forEach(function (s, i) { g.push(T(s, 896, 577.5 + i * 19, {font: 'bold 16px ' + FONT, fill: '#1010e6'}, 12)); });

chart.setOption({graphic: {elements: g}});
</script>
</body>
</html>
